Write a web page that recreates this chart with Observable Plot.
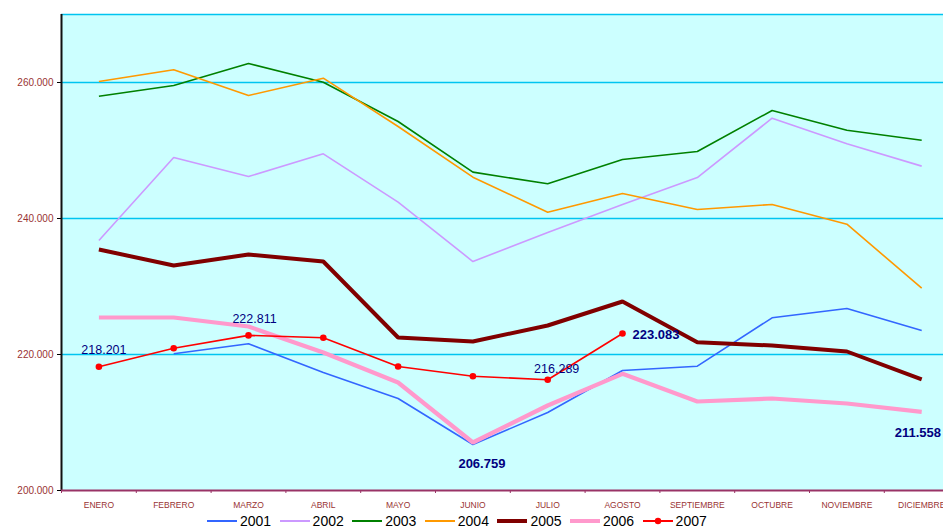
<!DOCTYPE html>
<html>
<head>
<meta charset="utf-8">
<script src="https://cdn.jsdelivr.net/npm/d3@7"></script>
<script src="https://cdn.jsdelivr.net/npm/@observablehq/plot@0.6"></script>
<style>
  html, body { margin: 0; padding: 0; background: white; overflow: hidden; width: 943px; height: 529px; }
  body { font-family: "Liberation Sans", Arial, sans-serif; }
  #chart svg { display: block; }
  #legend { position: relative; height: 17px; font-size: 14px; color: #000; }
  .item { position: absolute; top: 0; height: 17px; display: flex; align-items: center; }
  .item svg { margin-right: 3px; }
</style>
</head>
<body>
<div id="chart"></div>
<div id="legend"></div>
<script>
const months = ["ENERO","FEBRERO","MARZO","ABRIL","MAYO","JUNIO","JULIO","AGOSTO","SEPTIEMBRE","OCTUBRE","NOVIEMBRE","DICIEMBRE"];
const years = ["2001","2002","2003","2004","2005","2006","2007"];

const v2001 = [null, 220103, 221574, 217353, 213529, 206759, 211471, 217647, 218279, 225397, 226765, 223529];
const v2002 = [236765, 248971, 246176, 249510, 242402, 233676, 237941, 242059, 246029, 254750, 250980, 247700];
const v2003 = [257990, 259559, 262794, 260049, 254265, 246814, 245098, 248676, 249853, 255882, 252985, 251515];
const v2004 = [260147, 261863, 258088, 260637, 253529, 246078, 240931, 243676, 241324, 242059, 239166, 229755];
const v2005 = [235441, 233088, 234706, 233676, 222500, 221912, 224265, 227794, 221809, 221324, 220441, 216324];
const v2006 = [225441, 225441, 224118, 220294, 215882, 207059, 212500, 217157, 213088, 213529, 212794, 211558];
const v2007 = [218201, 220926, 222811, 222456, 218235, 216809, 216289, 223083, null, null, null, null];

const yTicks = [200000, 220000, 240000, 260000];
const gridValues = [220000, 240000, 260000, 270000];

const colors = ["#3366FF", "#CC99FF", "#008000", "#FF9900", "#800000", "#FF99CC", "#FF0000"];
const widths = [1.6, 1.6, 1.6, 1.6, 4, 4.2, 1.6];
const seriesValues = [v2001, v2002, v2003, v2004, v2005, v2006, v2007];

const locale = d3.formatLocale({decimal: ",", thousands: ".", grouping: [3], currency: ["", ""]});
const fmt = locale.format(",.0f");

const rows = seriesValues.map(vals => vals.map((v, i) => ({i, v})));

const lineMarks = rows.map((r, k) =>
  Plot.line(r, {x: "i", y: "v", stroke: colors[k], strokeWidth: widths[k], strokeLinejoin: "miter", strokeLinecap: "butt"})
);

const pt = (vals, i) => [{i, v: vals[i], t: fmt(vals[i])}];
const labelStyle = {x: "i", y: "v", text: "t", fill: "#000080", fontSize: 12.5, fontFamily: "Liberation Sans, Arial, sans-serif"};
const boldStyle = {...labelStyle, fontWeight: "bold", fontSize: 13};

const plot = Plot.plot({
  width: 943,
  height: 512,
  marginLeft: 61,
  marginRight: 0,
  marginTop: 14,
  marginBottom: 22,
  style: {fontFamily: "Liberation Sans, Arial, sans-serif", background: "white", overflow: "hidden"},
  x: {type: "linear", domain: [-0.5, 11.5], range: [61, 958.6]},
  y: {domain: [200000, 270000]},
  marks: [
    Plot.frame({fill: "#CCFFFF", stroke: null}),
    Plot.ruleY(gridValues, {stroke: "#00C4F0", strokeWidth: 1.6}),
    ...lineMarks,
    Plot.dot(rows[6].filter(d => d.v != null), {x: "i", y: "v", r: 3.3, fill: "#FF0000", stroke: null}),
    Plot.text(pt(v2007, 0), {...labelStyle, dx: 5, dy: -17}),
    Plot.text(pt(v2007, 2), {...labelStyle, dx: 6, dy: -16}),
    Plot.text(pt(v2007, 6), {...labelStyle, dx: 9, dy: -11}),
    Plot.text(pt(v2007, 7), {...boldStyle, textAnchor: "start", dx: 10, dy: 1}),
    Plot.text(pt(v2001, 5), {...boldStyle, dx: 9, dy: 19}),
    Plot.text(pt(v2006, 11), {...boldStyle, textAnchor: "start", dx: -27, dy: 21}),
    Plot.ruleX([-0.5], {stroke: "#111111", strokeWidth: 2}),
    Plot.ruleY([200000], {stroke: "#993366", strokeWidth: 2}),
    Plot.axisY({ticks: yTicks, tickSize: 4, tickFormat: fmt, stroke: "#000", fill: "#993333", fontSize: 10, tickPadding: 4, label: null}),
    Plot.axisX({ticks: d3.range(-0.5, 12, 1), tickSize: 3, tickFormat: () => "", stroke: "#993366", label: null}),
    Plot.axisX({ticks: d3.range(12), tickSize: 0, tickPadding: 11, tickFormat: i => months[i], fill: "#993333", fontSize: 8.5, label: null})
  ]
});
document.getElementById("chart").appendChild(plot);

const legend = document.getElementById("legend");
years.forEach((y, k) => {
  const item = document.createElement("div");
  item.className = "item";
  item.style.left = (207 + k * 72.6) + "px";
  const dot = k === 6 ? `<circle cx="15" cy="6" r="3.2" fill="${colors[k]}"/>` : "";
  item.innerHTML = `<svg width="30" height="12"><line x1="0" x2="30" y1="6" y2="6" stroke="${colors[k]}" stroke-width="${k === 4 || k === 5 ? 4 : 2}"/>${dot}</svg><span>${y}</span>`;
  legend.appendChild(item);
});
</script>
</body>
</html>
